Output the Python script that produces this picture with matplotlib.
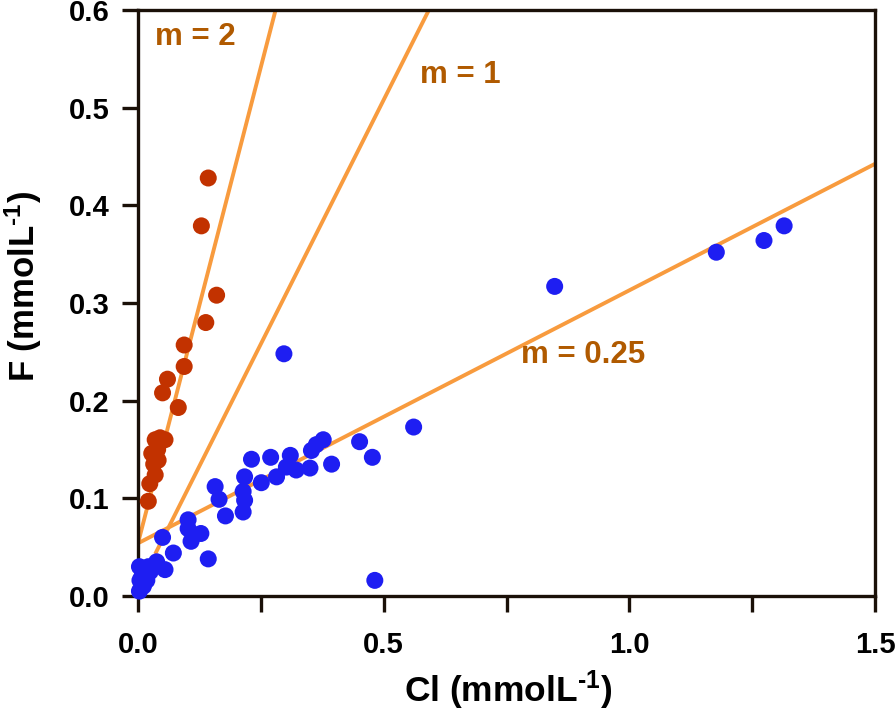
import matplotlib
matplotlib.use("Agg")
import matplotlib.pyplot as plt
import numpy as np
from matplotlib.ticker import FixedLocator

plt.rcParams['font.family'] = ['Liberation Sans', 'DejaVu Sans']
plt.rcParams['mathtext.fontset'] = 'custom'
plt.rcParams['mathtext.rm'] = 'Liberation Sans:bold'
plt.rcParams['mathtext.bf'] = 'Liberation Sans:bold'
plt.rcParams['mathtext.it'] = 'Liberation Sans:bold'
plt.rcParams['mathtext.default'] = 'bf'

# Red series (Cl, F)
red_cl = [0.143, 0.129, 0.160, 0.138, 0.094, 0.094, 0.060, 0.050, 0.082,
          0.035, 0.045, 0.055, 0.028, 0.041, 0.035, 0.024, 0.021, 0.040, 0.032]
red_f = [0.428, 0.379, 0.308, 0.280, 0.257, 0.235, 0.222, 0.208, 0.193,
         0.160, 0.162, 0.160, 0.146, 0.139, 0.124, 0.115, 0.097, 0.150, 0.135]

# Blue series (Cl, F)
blue_cl = [0.848, 1.177, 1.274, 1.315, 0.297, 0.561, 0.451, 0.477, 0.482,
           0.394, 0.377, 0.363, 0.353, 0.350, 0.310, 0.322, 0.302, 0.282,
           0.270, 0.231, 0.251, 0.217, 0.214, 0.217, 0.214, 0.157, 0.165,
           0.178, 0.102, 0.102, 0.128, 0.108, 0.143, 0.050, 0.072, 0.055,
           0.038, 0.021, 0.011, 0.004, 0.011, 0.018, 0.003, 0.003, 0.025, 0.008]
blue_f = [0.317, 0.352, 0.364, 0.379, 0.248, 0.173, 0.158, 0.142, 0.016,
          0.135, 0.160, 0.155, 0.149, 0.131, 0.144, 0.129, 0.132, 0.122,
          0.142, 0.140, 0.116, 0.122, 0.107, 0.098, 0.086, 0.112, 0.099,
          0.082, 0.078, 0.069, 0.064, 0.056, 0.038, 0.060, 0.044, 0.027,
          0.035, 0.030, 0.023, 0.016, 0.010, 0.016, 0.030, 0.005, 0.025, 0.020]

# Reference lines
line_labels = ["m = 2", "m = 1", "m = 0.25"]
line_x0 = [0.0, 0.035, 0.0]
line_x1 = [0.280, 0.592, 1.5]
line_b = [0.054, 0.008, 0.054]
line_m = [1.95, 1.0, 0.259]
label_x = [0.035, 0.573, 0.780]
label_y = [0.572, 0.533, 0.247]

x_ticks = [0.0, 0.5, 1.0, 1.5]
x_minor = [0.25, 0.75, 1.25]
x_ticklabels = ['0.0', '0.5', '1.0', '1.5']
y_ticks = [0.0, 0.1, 0.2, 0.3, 0.4, 0.5, 0.6]
y_ticklabels = ['0.0', '0.1', '0.2', '0.3', '0.4', '0.5', '0.6']

fig = plt.figure(figsize=(8.96, 7.16), dpi=100)
ax = fig.add_axes([0.154, 0.1676, 0.8226, 0.8184])

line_color = '#F89B3E'
text_color = '#B05A00'
for x0, x1, b, m in zip(line_x0, line_x1, line_b, line_m):
    xs = np.array([x0, x1])
    ax.plot(xs, b + m * xs, color=line_color, lw=2.8, zorder=1, solid_capstyle='butt')

ax.scatter(red_cl, red_f, s=150, color='#C23200', edgecolors='none', zorder=3, clip_on=False)
ax.scatter(blue_cl, blue_f, s=150, color='#1E1EF2', edgecolors='none', zorder=3, clip_on=False)

for lab, lx, ly in zip(line_labels, label_x, label_y):
    ax.text(lx, ly, lab, color=text_color, fontsize=22.5, fontweight='bold',
            ha='left', va='center')

ax.set_xlim(0, 1.5)
ax.set_ylim(0, 0.6)
ax.xaxis.set_major_locator(FixedLocator(x_ticks))
ax.xaxis.set_minor_locator(FixedLocator(x_minor))
ax.yaxis.set_major_locator(FixedLocator(y_ticks))
ax.set_xticklabels(x_ticklabels)
ax.set_yticklabels(y_ticklabels)

spine_color = '#1A1008'
for sp in ax.spines.values():
    sp.set_linewidth(2.4)
    sp.set_color(spine_color)
ax.tick_params(which='both', direction='out', length=11.5, width=2.4, color=spine_color,
               top=False, right=False)
ax.tick_params(axis='x', which='major', labelsize=21, pad=14)
ax.tick_params(axis='y', which='major', labelsize=21, pad=9)
for t in ax.get_xticklabels() + ax.get_yticklabels():
    t.set_fontweight('bold')

fig.text(0.567, 0.036, 'Cl (mmolL$^{\\text{-1}}$)', fontsize=25.5, fontweight='bold',
         ha='center', va='center')
fig.text(0.026, 0.600, 'F (mmolL$^{\\text{-1}}$)', fontsize=25, fontweight='bold',
         ha='center', va='center', rotation=90)

fig.savefig('out.png', dpi=100)
